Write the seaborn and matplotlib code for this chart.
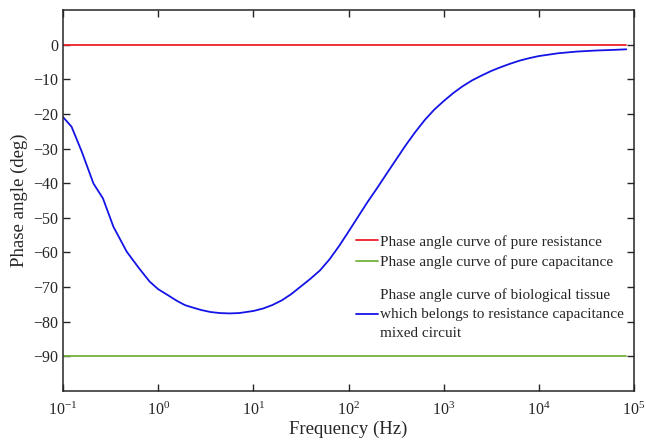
import numpy as np
import pandas as pd
import seaborn as sns
import matplotlib
matplotlib.use("Agg")
import matplotlib.pyplot as plt
from matplotlib.ticker import LogLocator, LogFormatterSciNotation, NullLocator
from matplotlib.lines import Line2D

# Frequency sweep (Hz) and measured phase angle of the tissue (deg)
tissue_freq = [0.1, 0.123, 0.158, 0.209, 0.263, 0.339, 0.468, 0.631, 0.813,
               1.0, 1.26, 1.58, 1.91, 2.24, 2.82, 3.55, 4.47, 5.62, 7.08,
               10, 12.6, 15.8, 20.0, 25.1, 31.6, 39.8, 50.1, 63.1, 79.4,
               100, 126, 158, 200, 251, 316, 398, 501, 631, 794,
               1000, 1259, 1585, 1995, 2512, 3162, 3981, 5012, 6310, 7943,
               10000, 15849, 25119, 39811, 63096, 83000]
tissue_phase = [-20.9, -23.7, -31.0, -40.1, -44.4, -52.6, -59.8, -64.6, -68.4,
                -70.6, -72.3, -74.0, -75.2, -75.8, -76.6, -77.2, -77.5, -77.6, -77.5,
                -76.9, -76.2, -75.2, -73.8, -72.0, -69.8, -67.6, -65.2, -62.0, -58.2,
                -54.0, -49.7, -45.5, -41.4, -37.3, -33.2, -29.1, -25.3, -21.8, -18.8,
                -16.3, -14.0, -12.0, -10.3, -8.9, -7.6, -6.5, -5.5, -4.6, -3.9,
                -3.3, -2.5, -2.0, -1.7, -1.5, -1.35]

# Ideal reference elements
ideal_freq = [0.1, 83000]
resistance_phase = [0, 0]
capacitance_phase = [-90, -90]

labels = [
    "Phase angle curve of pure resistance",
    "Phase angle curve of pure capacitance",
    "Phase angle curve of biological tissue\nwhich belongs to resistance capacitance\nmixed circuit",
]
colors = ["#ee1f26", "#74b03c", "#1414e6"]

sns.set_theme(style="ticks")
plt.rcParams["font.family"] = ["Liberation Serif", "DejaVu Serif"]
plt.rcParams["mathtext.fontset"] = "custom"
plt.rcParams["mathtext.rm"] = "Liberation Serif"
plt.rcParams["mathtext.it"] = "Liberation Serif:italic"
plt.rcParams["axes.unicode_minus"] = True

fig = plt.figure(figsize=(6.46, 4.40), dpi=100)
ax = fig.add_axes([63 / 646, 1 - 391 / 440, (634 - 63) / 646, (391 - 10) / 440])

df_r = pd.DataFrame({"f": ideal_freq, "phase": resistance_phase})
df_c = pd.DataFrame({"f": ideal_freq, "phase": capacitance_phase})
df_t = pd.DataFrame({"f": tissue_freq, "phase": tissue_phase})

sns.lineplot(data=df_r, x="f", y="phase", ax=ax, color=colors[0], lw=1.3, legend=False)
sns.lineplot(data=df_c, x="f", y="phase", ax=ax, color=colors[1], lw=1.3, legend=False)
sns.lineplot(data=df_t, x="f", y="phase", ax=ax, color=colors[2], lw=1.3, legend=False)

ax.set_xscale("log")
ax.set_xlim(0.1, 1e5)
ax.set_ylim(-100, 10)
ax.xaxis.set_major_locator(LogLocator(base=10, numticks=10))
ax.xaxis.set_minor_locator(NullLocator())
ax.xaxis.set_major_formatter(LogFormatterSciNotation(base=10))
ax.set_yticks(np.arange(-90, 1, 10))

ax.set_xlabel("Frequency (Hz)", fontsize=13.5, labelpad=1)
ax.set_ylabel("Phase angle (deg)", fontsize=13.5, labelpad=4)

ax.tick_params(axis="both", which="major", direction="in", length=5, width=1,
               top=True, right=True, labelsize=11.5, color="#262626", labelcolor="#262626")
ax.tick_params(axis="x", pad=8)
for sp in ax.spines.values():
    sp.set_visible(True)
    sp.set_color("#262626")
    sp.set_linewidth(1.1)

handles = [Line2D([], [], color=c, lw=1.3) for c in colors]
leg1 = ax.legend(handles[:2], labels[:2], loc="upper left",
                 bbox_to_anchor=(0.5137, 0.41), frameon=False, fontsize=11,
                 handlelength=1.4, handletextpad=0.15, labelspacing=0.45,
                 borderpad=0, borderaxespad=0)
ax.add_artist(leg1)
leg2 = ax.legend(handles[2:], labels[2:], loc="upper left",
                 bbox_to_anchor=(0.5137, 0.27), frameon=False, fontsize=11,
                 handlelength=1.4, handletextpad=0.15,
                 borderpad=0, borderaxespad=0)
for t in leg2.get_texts():
    t.set_linespacing(1.6)

fig.savefig("out.png", dpi=100)
